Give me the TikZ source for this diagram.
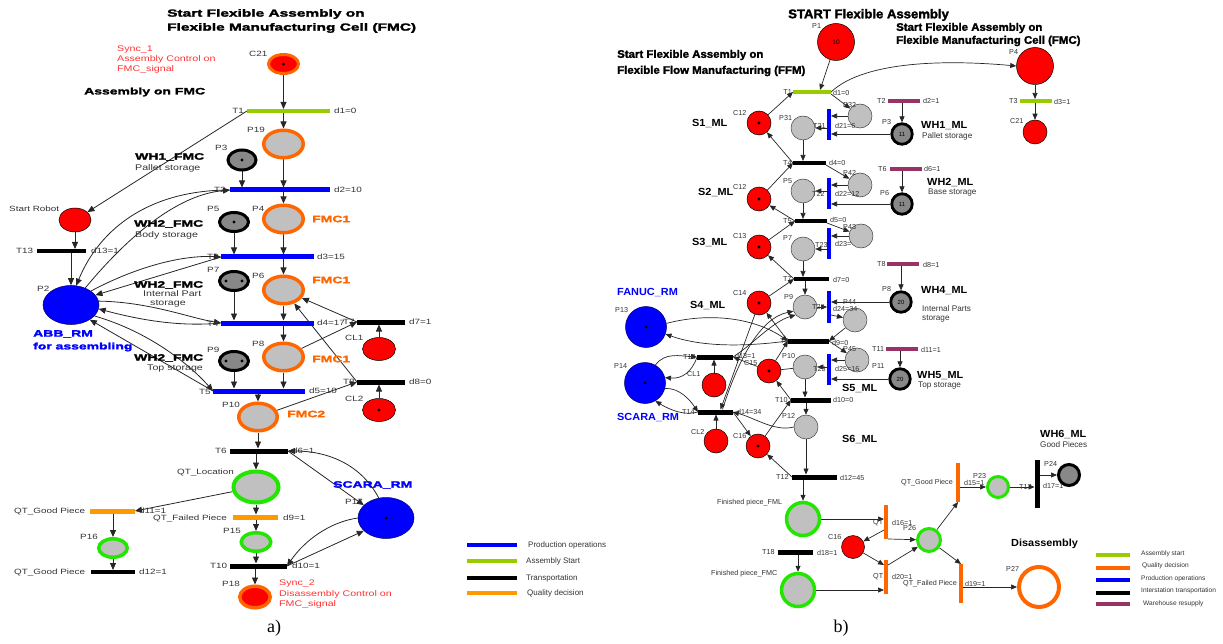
\documentclass[tikz,border=0pt]{standalone}
\usepackage{fontspec}
\setmainfont{Liberation Sans}
\newfontfamily\afont[FakeStretch=1.3]{Liberation Sans}
\newfontfamily\ahv[FakeStretch=1.5,FakeBold=2.2]{Liberation Sans}
\newfontfamily\bhv[FakeStretch=1.06]{Liberation Sans}
\newfontfamily\bhvy[FakeStretch=1.04,FakeBold=2]{Liberation Sans}
\newfontfamily\serf{Liberation Serif}
\usetikzlibrary{arrows.meta,shapes.geometric,calc}
\pgfdeclarelayer{bg}
\pgfsetlayers{bg,main}
\definecolor{orR}{HTML}{FF6600}
\definecolor{amb}{HTML}{FF9900}
\definecolor{ygreen}{HTML}{99CC00}
\definecolor{grR}{HTML}{22E600}
\definecolor{pgray}{HTML}{C0C0C0}
\definecolor{wgray}{HTML}{888888}
\definecolor{purp}{HTML}{993366}
\definecolor{redT}{HTML}{FF3333}
\definecolor{bl}{HTML}{0000FF}
\tikzset{
  arr/.style={-{Triangle[length=7pt,width=6pt]}, line width=.8pt, draw=black!85},
  barr/.style={-{Triangle[length=6pt,width=5pt]}, line width=.7pt, draw=black!85},
  pln/.style={line width=.7pt, draw=black!85},
  sz/.style 2 args={minimum width=#1, minimum height=#2},
  ringO/.style={ellipse, draw=orR, line width=3.5pt, fill=pgray, inner sep=0pt},
  ringG/.style={ellipse, draw=grR, line width=3.5pt, fill=pgray, inner sep=0pt},
  wh/.style={ellipse, draw=black, line width=3pt, fill=wgray, inner sep=0pt},
  redp/.style={ellipse, draw=black, line width=.5pt, fill=red, inner sep=0pt},
  bluep/.style={ellipse, draw=black!60!blue, line width=.5pt, fill=bl, inner sep=0pt},
  onedot/.style={path picture={\fill[black] (path picture bounding box.center) circle (1.6pt);}},
  twodots/.style={path picture={\fill[black] ([xshift=-8pt]path picture bounding box.center) circle (1.6pt);
                                \fill[black] ([xshift=8pt]path picture bounding box.center) circle (1.6pt);}},
  tbar/.style={rectangle, inner sep=0pt, outer sep=0pt, fill=#1, draw=none},
  bred/.style={circle, draw=black, line width=.5pt, fill=red, inner sep=0pt, minimum size=#1},
  bgray/.style={circle, draw=black!75, line width=.5pt, fill=pgray, inner sep=0pt, minimum size=24pt},
  bwh/.style={circle, draw=black, line width=2.8pt, fill=wgray, inner sep=0pt, minimum size=20.5pt, font=\fontsize{6}{6}\selectfont},
  bgr/.style={circle, draw=grR, line width=3.5pt, fill=pgray, inner sep=0pt, minimum size=#1},
  bblue/.style={circle, draw=black!60!blue, line width=.5pt, fill=bl, inner sep=0pt, minimum size=41pt},
  ta/.style={inner sep=0pt, anchor=west, text=black!80, font=\afont\fontsize{7.6}{9}\selectfont},
  tad/.style={inner sep=0pt, anchor=west, text=black!80, font=\afont\fontsize{8.2}{9}\selectfont},
  tar/.style={inner sep=0pt, anchor=west, text=redT, font=\afont\fontsize{8.2}{9}\selectfont},
  tah/.style={inner sep=0pt, anchor=west, text=black, font=\ahv\bfseries\fontsize{9.3}{11}\selectfont},
  tat/.style={inner sep=0pt, anchor=west, text=black, font=\ahv\bfseries\fontsize{10.3}{11}\selectfont},
  tb/.style={inner sep=0pt, anchor=west, text=black!80, font=\fontsize{7.2}{8}\selectfont},
  tbd/.style={inner sep=0pt, anchor=west, text=black!80, font=\fontsize{8.2}{9}\selectfont},
  tbb/.style={inner sep=0pt, anchor=west, text=black, font=\bhv\bfseries\fontsize{10.3}{11}\selectfont},
  tbt/.style={inner sep=0pt, anchor=west, text=black, font=\bhvy\bfseries\fontsize{11}{12}\selectfont},
  tlg/.style={inner sep=0pt, anchor=west, text=black!80, font=\fontsize{8}{9}\selectfont},
  tlgb/.style={inner sep=0pt, anchor=west, text=black!80, font=\fontsize{6.6}{8}\selectfont},
  tser/.style={inner sep=0pt, anchor=center, font=\serf\fontsize{18}{20}\selectfont},
}
\begin{document}
\begin{tikzpicture}[x=1pt,y=-1pt]
\useasboundingbox (0,0) rectangle (1223,644);

%%%%%%%%%%%%%%%%%%%%%%%%%%%% a) %%%%%%%%%%%%%%%%%%%%%%%%%%%%
% places
\node[ringO, fill=red, line width=3pt, sz={30pt}{19pt}, onedot] (C21) at (283.5,64) {};
\node[ringO, sz={39.5pt}{27.5pt}] (P19) at (283.5,144) {};
\node[ringO, sz={39.5pt}{27.5pt}] (P4) at (283.5,219) {};
\node[ringO, sz={39.5pt}{27.5pt}] (P6) at (283.5,290) {};
\node[ringO, sz={39.5pt}{27.5pt}] (P8) at (283.5,357) {};
\node[ringO, sz={38.5pt}{27.5pt}] (P10) at (258,417) {};
\node[wh, sz={28pt}{20pt}, onedot] (P3) at (242,160) {};
\node[wh, sz={29pt}{19pt}, onedot] (P5) at (234,222) {};
\node[wh, sz={29pt}{19pt}, twodots] (P7) at (234,281) {};
\node[wh, sz={29pt}{19pt}, twodots] (P9) at (234,361) {};
\node[redp, sz={32pt}{24pt}] (SR) at (75,220) {};
\node[bluep, sz={56pt}{39pt}] (P2) at (71,305) {};
\node[redp, sz={33pt}{23pt}] (CL1) at (379,349) {};
\node[redp, sz={33pt}{23pt}, onedot] (CL2) at (379,410) {};
\node[bluep, sz={56pt}{41pt}, onedot] (P17) at (386,518) {};
\node[ringG, line width=4pt, sz={45pt}{31pt}] (QTL) at (256,487) {};
\node[ringG, sz={28.5pt}{18.5pt}] (P16) at (113,548) {};
\node[ringG, sz={29.5pt}{18.5pt}] (P15) at (256,542) {};
\node[ringO, fill=red, sz={30.5pt}{21.5pt}] (P18) at (255,597) {};
% transitions
\node[tbar=ygreen, sz={83pt}{4pt}] (T1) at (288.5,111) {};
\node[tbar=bl, sz={100pt}{5pt}] (T2) at (280,190) {};
\node[tbar=bl, sz={93pt}{5pt}] (T3) at (267.5,257) {};
\node[tbar=bl, sz={93pt}{5pt}] (T4) at (267.5,323) {};
\node[tbar=bl, sz={92pt}{5pt}] (T5) at (259,391) {};
\node[tbar=black, sz={49pt}{4pt}] (T13) at (61.5,251) {};
\node[tbar=black, sz={48pt}{5pt}] (T7) at (381,322) {};
\node[tbar=black, sz={48pt}{5pt}] (T8) at (381,382) {};
\node[tbar=black, sz={58pt}{5pt}] (T6) at (259,451) {};
\node[tbar=amb, sz={45pt}{5pt}] (T11) at (112.5,511) {};
\node[tbar=amb, sz={45pt}{5pt}] (T9) at (255.5,517) {};
\node[tbar=black, sz={44pt}{4pt}] (T12) at (113,572) {};
\node[tbar=black, sz={57pt}{5pt}] (T10) at (258.5,566) {};

% texts
\node[tat] (la1) at (167,14) {Start Flexible Assembly on};
\node[tat] (la2) at (167,28) {Flexible Manufacturing Cell (FMC)};
\node[tar] (la3) at (117,49) {Sync\_1};
\node[tar] (la4) at (117,59) {Assembly Control on};
\node[tar] (la5) at (117,69) {FMC\_signal};
\node[tah] (la6) at (84,92) {Assembly on FMC};
\node[ta] (la7) at (249,54) {C21};
\node[ta, anchor=east] (la8) at (244,111) {T1};
\node[ta] (la9) at (334,111) {d1=0};
\node[ta] (la10) at (247,130) {P19};
\node[tah] (la11) at (135,157) {WH1\_FMC};
\node[tad] (la12) at (135,168) {Pallet storage};
\node[ta] (la13) at (215,148) {P3};
\node[ta] (la14) at (214,190) {T2};
\node[ta] (la15) at (334,190) {d2=10};
\node[ta] (la16) at (9,209) {Start Robot};
\node[ta] (la17) at (207,209) {P5};
\node[ta] (la18) at (252,209) {P4};
\node[tah, text=orR] (la19) at (312,219) {FMC1};
\node[tah] (la20) at (134,224) {WH2\_FMC};
\node[tad] (la21) at (135,235) {Body storage};
\node[ta] (la22) at (16,251) {T13};
\node[ta] (la23) at (91,251) {d13=1};
\node[ta] (la24) at (207,257) {T3};
\node[ta] (la25) at (317,257) {d3=15};
\node[ta] (la26) at (37,289) {P2};
\node[ta] (la27) at (207,270) {P7};
\node[ta] (la28) at (252,276) {P6};
\node[tah, text=orR] (la29) at (312,280) {FMC1};
\node[tah] (la30) at (134,285) {WH2\_FMC};
\node[tad] (la31) at (143,294) {Internal Part};
\node[tad] (la32) at (150,304) {storage};
\node[tah, text=bl] (la33) at (33,334) {ABB\_RM};
\node[tah, text=bl] (la34) at (33,347) {for assembling};
\node[ta] (la35) at (207,324) {T4};
\node[ta] (la36) at (317,323) {d4=17};
\node[ta] (la37) at (207,350) {P9};
\node[ta] (la38) at (252,344) {P8};
\node[tah, text=orR] (la39) at (312,359) {FMC1};
\node[tah] (la40) at (134,358) {WH2\_FMC};
\node[tad] (la41) at (147,369) {Top storage};
\node[ta] (la42) at (199,392) {T5};
\node[ta] (la43) at (309,391) {d5=10};
\node[ta] (la44) at (222,405) {P10};
\node[tah, text=orR] (la45) at (287,414) {FMC2};
\node[ta] (la46) at (343,322) {T7};
\node[ta] (la47) at (409,322) {d7=1};
\node[ta] (la48) at (345,338) {CL1};
\node[ta] (la49) at (343,382) {T8};
\node[ta] (la50) at (409,382) {d8=0};
\node[ta] (la51) at (345,399) {CL2};
\node[ta] (la52) at (215,451) {T6};
\node[ta] (la53) at (292,451) {d6=1};
\node[ta] (la54) at (177,472) {QT\_Location};
\node[ta] (la55) at (14,511) {QT\_Good Piece};
\node[ta] (la56) at (139,511) {d11=1};
\node[ta] (la57) at (153,518) {QT\_Failed Piece};
\node[ta] (la58) at (283,518) {d9=1};
\node[ta] (la59) at (80,537) {P16};
\node[ta] (la60) at (223,531) {P15};
\node[ta] (la61) at (14,572) {QT\_Good Piece};
\node[ta] (la62) at (139,572) {d12=1};
\node[ta] (la63) at (210,566) {T10};
\node[ta] (la64) at (292,566) {d10=1};
\node[ta] (la65) at (222,584) {P18};
\node[tar] (la66) at (279,583) {Sync\_2};
\node[tar] (la67) at (279,594) {Disassembly Control on};
\node[tar] (la68) at (279,604) {FMC\_signal};
\node[tah, text=bl] (la69) at (333,485) {SCARA\_RM};
\node[ta] (la70) at (345,502) {P17};
\node[tser] (la71) at (274,628) {a)};
% legend a
\draw[line width=4.5pt, bl] (467,545) -- (517,545);
\draw[line width=4.5pt, ygreen] (467,561) -- (517,561);
\draw[line width=4.5pt, black] (467,578) -- (517,578);
\draw[line width=4.5pt, amb] (467,593) -- (517,593);
\node[tlg] (lga1) at (528,545) {Production operations};
\node[tlg] (lga2) at (526,561) {Assembly Start};
\node[tlg] (lga3) at (526,578) {Transportation};
\node[tlg] (lga4) at (527,593) {Quality decision};

%%%%%%%%%%%%%%%%%%%%%%%%%%%% b) %%%%%%%%%%%%%%%%%%%%%%%%%%%%
\node[bred=37pt, font=\fontsize{6.5}{7}\selectfont] (bP1) at (836,42) {10};
\node[bred=37pt] (bP4) at (1035,66) {};
\node[bred=24pt] (bC21) at (1035,132) {};
\node[bred=24pt, onedot] (bC12) at (759,123) {};
\node[bred=24pt, onedot] (bC22) at (759,199) {};
\node[bred=24pt, onedot] (bC13) at (759,247) {};
\node[bred=24pt, onedot] (bC14) at (759,303) {};
\node[bred=24pt, onedot] (bC15) at (769,371) {};
\node[bred=24pt, onedot] (bC16) at (758,446) {};
\node[bred=23pt] (bC16b) at (853,547) {};
\node[bred=24pt] (bCL1) at (714,385) {};
\node[bred=24pt] (bCL2) at (716,441) {};
\node[bgray] (bP31) at (803,128) {};
\node[bgray] (bP32) at (860,116) {};
\node[bgray] (bP5) at (803,191) {};
\node[bgray] (bP42) at (860,185) {};
\node[bgray] (bP7) at (803,249) {};
\node[bgray] (bP43) at (861,236) {};
\node[bgray] (bP9) at (805,307) {};
\node[bgray] (bP44) at (855,320) {};
\node[bgray] (bP10) at (805,367) {};
\node[bgray] (bP45) at (857,360) {};
\node[bgray] (bP12) at (806,427) {};
\node[bwh] (bP3) at (902,134) {11};
\node[bwh] (bP6) at (902,204) {11};
\node[bwh] (bP8) at (901,302) {20};
\node[bwh] (bP11) at (900,379) {20};
\node[bblue, onedot] (bP13) at (646,327) {};
\node[bblue, onedot] (bP14) at (645,383) {};
\node[bgr=33pt] (bFML) at (803,519) {};
\node[bgr=33pt] (bFMC) at (798,590) {};
\node[bgr=23pt, line width=3pt] (bP26) at (929,540) {};
\node[bgr=21pt, line width=3pt] (bP23) at (998,487) {};
\node[bwh, line width=3pt, minimum size=21pt] (bP24) at (1069,475) {};
\node[circle, draw=orR, line width=4pt, fill=white, inner sep=0pt, minimum size=40pt] (bP27) at (1039,587) {};
% transitions
\node[tbar=ygreen, sz={38pt}{4pt}] (bT1) at (812,92) {};
\node[tbar=ygreen, sz={32pt}{4pt}] (bT3) at (1036,101) {};
\node[tbar=purp, sz={32pt}{4pt}] (bT2) at (904,101) {};
\node[tbar=purp, sz={32pt}{4pt}] (bT6) at (906,169) {};
\node[tbar=purp, sz={32pt}{4pt}] (bT8) at (903,264) {};
\node[tbar=purp, sz={32pt}{4pt}] (bT11) at (902,349) {};
\node[tbar=black, sz={33pt}{4pt}] (bT4) at (809.5,163) {};
\node[tbar=black, sz={32pt}{4pt}] (bT5) at (811,221) {};
\node[tbar=black, sz={35pt}{4pt}] (bT7) at (811.5,279) {};
\node[tbar=black, sz={41pt}{5pt}] (bT9) at (808.5,341) {};
\node[tbar=black, sz={36pt}{5pt}] (bT13) at (715,357) {};
\node[tbar=black, sz={35pt}{5pt}] (bT14) at (715.5,412) {};
\node[tbar=black, sz={40pt}{5pt}] (bT10) at (811,400) {};
\node[tbar=black, sz={45pt}{5pt}] (bT12) at (814.5,477) {};
\node[tbar=black, sz={35pt}{5pt}] (bT18) at (795.5,552) {};
\node[tbar=bl, sz={4pt}{31pt}] (bT21) at (829,124.5) {};
\node[tbar=bl, sz={4pt}{31pt}] (bT22) at (829,193.5) {};
\node[tbar=bl, sz={4pt}{31pt}] (bT23) at (829,243.5) {};
\node[tbar=bl, sz={4pt}{32pt}] (bT24) at (829,307) {};
\node[tbar=bl, sz={4pt}{31pt}] (bT25) at (829,369.5) {};
\node[tbar=orR, sz={4pt}{34pt}] (bT16) at (886,522) {};
\node[tbar=orR, sz={4pt}{34pt}] (bT20) at (886,577) {};
\node[tbar=orR, sz={4pt}{39pt}] (bT15) at (958,482.5) {};
\node[tbar=orR, sz={4pt}{39pt}] (bT19) at (961,583.5) {};
\node[tbar=black, sz={5pt}{48pt}] (bT17) at (1037,484) {};

% texts b
\node[tbt, font=\bhvy\bfseries\fontsize{12.6}{13}\selectfont] (lb1) at (788,15) {START Flexible Assembly};
\node[tbt] (lb2) at (896,28) {Start Flexible Assembly on};
\node[tbt] (lb3) at (896,41) {Flexible Manufacturing Cell (FMC)};
\node[tbt] (lb4) at (617,55) {Start Flexible Assembly on};
\node[tbt] (lb5) at (617,71) {Flexible Flow Manufacturing (FFM)};
\node[tb] (lb6) at (812,26) {P1};
\node[tb, anchor=east] (lb7) at (792,92) {T1};
\node[tb] (lb8) at (833,93) {d1=0};
\node[tb] (lb9) at (1009,52) {P4};
\node[tb] (lb10) at (1009,101) {T3};
\node[tb] (lb11) at (1054,102) {d3=1};
\node[tb] (lb12) at (1010,121) {C21};
\node[tb] (lb13) at (733,113) {C12};
\node[tbb] (lb14) at (692,124) {S1\_ML};
\node[tb] (lb15) at (779,118) {P31};
\node[tb] (lb16) at (843,105) {P32};
\node[tb] (lb17) at (813,126) {T21};
\node[tb] (lb18) at (835,126) {d21=6};
\node[tb] (lb19) at (877,101) {T2};
\node[tb] (lb20) at (923,101) {d2=1};
\node[tb] (lb21) at (882,122) {P3};
\node[tbb] (lb22) at (921,126) {WH1\_ML};
\node[tbd] (lb23) at (922,136) {Pallet storage};
\node[tb] (lb24) at (783,163) {T4};
\node[tb] (lb25) at (829,163) {d4=0};
\node[tb] (lb26) at (733,187) {C12};
\node[tbb] (lb27) at (698,193) {S2\_ML};
\node[tb] (lb28) at (783,181) {P5};
\node[tb] (lb29) at (843,173) {P42};
\node[tb] (lb30) at (812,194) {T22};
\node[tb] (lb31) at (835,194) {d22=12};
\node[tb] (lb32) at (878,169) {T6};
\node[tb] (lb33) at (924,169) {d6=1};
\node[tb] (lb34) at (880,193) {P6};
\node[tbb] (lb35) at (927,183) {WH2\_ML};
\node[tbd] (lb36) at (928,193) {Base storage};
\node[tb] (lb37) at (783,221) {T5};
\node[tb] (lb38) at (830,220) {d5=0};
\node[tb] (lb39) at (843,227) {P43};
\node[tb] (lb40) at (733,236) {C13};
\node[tbb] (lb41) at (692,243) {S3\_ML};
\node[tb] (lb42) at (783,238) {P7};
\node[tb] (lb43) at (815,245) {T23};
\node[tb] (lb44) at (835,244) {d23=};
\node[tb] (lb45) at (783,279) {T7};
\node[tb] (lb46) at (833,280) {d7=0};
\node[tb] (lb47) at (877,264) {T8};
\node[tb] (lb48) at (923,265) {d8=1};
\node[tb] (lb49) at (882,289) {P8};
\node[tbb] (lb50) at (921,291) {WH4\_ML};
\node[tbd] (lb51) at (922,309) {Internal Parts};
\node[tbd] (lb52) at (922,319) {storage};
\node[tb] (lb53) at (733,293) {C14};
\node[tbb] (lb54) at (690,306) {S4\_ML};
\node[tb] (lb55) at (784,297) {P9};
\node[tb] (lb56) at (812,307) {T24};
\node[tb] (lb57) at (833,309) {d24=34};
\node[tb] (lb58) at (843,302) {P44};
\node[tbb, text=bl] (lb59) at (617,293) {FANUC\_RM};
\node[tb] (lb60) at (615,310) {P13};
\node[tb] (lb61) at (780,341) {T9};
\node[tb] (lb62) at (832,343) {d9=0};
\node[tb] (lb63) at (843,349) {P45};
\node[tb] (lb64) at (872,349) {T11};
\node[tb] (lb65) at (921,350) {d11=1};
\node[tb] (lb66) at (872,366) {P11};
\node[tbb] (lb67) at (917,376) {WH5\_ML};
\node[tbd] (lb68) at (918,386) {Top storage};
\node[tb] (lb69) at (683,357) {T13};
\node[tb] (lb70) at (735,356) {d13=1};
\node[tb] (lb71) at (744,363) {C15};
\node[tb] (lb72) at (782,356) {P10};
\node[tb] (lb73) at (813,369) {T25};
\node[tb] (lb74) at (835,369) {d25=16};
\node[tb] (lb75) at (614,366) {P14};
\node[tbb, text=bl] (lb76) at (617,418) {SCARA\_RM};
\node[tb] (lb77) at (687,374) {CL1};
\node[tbb] (lb78) at (842,389) {S5\_ML};
\node[tb] (lb79) at (682,412) {T14};
\node[tb] (lb80) at (737,412) {d14=34};
\node[tb] (lb81) at (775,400) {T10};
\node[tb] (lb82) at (833,400) {d10=0};
\node[tb] (lb83) at (782,416) {P12};
\node[tb] (lb84) at (691,432) {CL2};
\node[tb] (lb85) at (733,436) {C16};
\node[tbb] (lb86) at (842,440) {S6\_ML};
\node[tb] (lb87) at (776,477) {T12};
\node[tb] (lb88) at (840,478) {d12=45};
\node[tb] (lb89) at (717,503) {Finished piece\_FML};
\node[tb] (lb90) at (873,523) {QT};
\node[tb] (lb91) at (892,523) {d16=1};
\node[tb] (lb92) at (828,537) {C16};
\node[tb] (lb93) at (903,528) {P26};
\node[tb] (lb94) at (762,552) {T18};
\node[tb] (lb95) at (817,553) {d18=1};
\node[tb] (lb96) at (711,574) {Finished piece\_FMC};
\node[tb] (lb97) at (873,577) {QT};
\node[tb] (lb98) at (892,577) {d20=1};
\node[tb, anchor=east] (lb99) at (957,584) {QT\_Failed Piece};
\node[tb, anchor=east] (lb100) at (953,483) {QT\_Good Piece};
\node[tb] (lb101) at (964,483) {d15=1};
\node[tb] (lb102) at (973,476) {P23};
\node[tb] (lb103) at (1019,487) {T17};
\node[tb] (lb104) at (1043,486) {d17=1};
\node[tb] (lb105) at (1044,464) {P24};
\node[tbb] (lb106) at (1040,435) {WH6\_ML};
\node[tbd] (lb107) at (1040,445) {Good Pieces};
\node[tbb] (lb108) at (1011,544) {Disassembly};
\node[tb] (lb109) at (1006,569) {P27};
\node[tb] (lb110) at (965,584) {d19=1};
\node[tser] (lb111) at (841,628) {b)};
% legend b
\draw[line width=4pt, ygreen] (1096,555) -- (1130,555);
\draw[line width=4pt, orR] (1096,568) -- (1130,568);
\draw[line width=4pt, bl] (1096,580) -- (1130,580);
\draw[line width=4pt, black] (1096,593) -- (1130,593);
\draw[line width=4pt, purp] (1096,604) -- (1130,604);
\node[tlgb] (lgb1) at (1141,554) {Assembly start};
\node[tlgb] (lgb2) at (1142,566) {Quality decision};
\node[tlgb] (lgb3) at (1141,579) {Production operations};
\node[tlgb] (lgb4) at (1141,591) {Interstation transportation};
\node[tlgb] (lgb5) at (1143,604) {Warehouse resupply};

%%%%%%%%%%%%%%%%%%%%%%%%%%%% connectors %%%%%%%%%%%%%%%%%%%%%%%%%%%%
\begin{pgfonlayer}{bg}
% a)
\draw[arr] (C21) -- (C21 |- T1.north);
\draw[arr] (P19 |- T1.south) -- (P19);
\draw[arr] (T1.west) -- (SR);
\draw[arr] (P3) -- (P3 |- T2.north);
\draw[arr] (P19) -- (P19 |- T2.north);
\draw[arr] (P4 |- T2.south) -- (P4);
\draw[arr] (P5) -- (P5 |- T3.north);
\draw[arr] (P4) -- (P4 |- T3.north);
\draw[arr] (P6 |- T3.south) -- (P6);
\draw[arr] (P7) -- (P7 |- T4.north);
\draw[arr] (P6) -- (P6 |- T4.north);
\draw[arr] (P8 |- T4.south) -- (P8);
\draw[arr] (P9) -- (P9 |- T5.north);
\draw[arr] (P8) -- (P8 |- T5.north);
\draw[arr] (P10 |- T5.south) -- (P10);
\draw[arr] (P10) -- (P10 |- T6.north);
\draw[arr] (QTL |- T6.south) -- (QTL);
\draw[arr] (QTL) -- (QTL |- T9.north);
\draw[arr] (P15 |- T9.south) -- (P15);
\draw[arr] (P15) -- (P15 |- T10.north);
\draw[arr] (P18 |- T10.south) -- (P18);
\draw[arr] (QTL) -- (T11.east);
\draw[arr] (P16 |- T11.south) -- (P16);
\draw[arr] (P16) -- (P16 |- T12.north);
\draw[arr] (SR) -- (SR |- T13.north);
\draw[arr] (P2 |- T13.south) -- (P2);
\draw[arr] (P8) -- (T7.west);
\draw[arr] (T7.west) -- (P6);
\draw[arr] (CL1) -- (CL1 |- T7.south);
\draw[arr] (P10) -- (T8.west);
\draw[arr] (T8.west) -- (P6);
\draw[arr] (CL2) -- (CL2 |- T8.south);
\draw[arr] (P17.110) .. controls (362,466) and (330,451) .. (T6.east);
\draw[arr] (T6.east) -- (P17.150);
\draw[arr] (P17.west) .. controls (330,522) and (305,540) .. (T10.east);
\draw[arr] (T10.east) -- (P17.210);
\draw[arr] (P2.50) .. controls (125,240) and (175,195) .. (T2.west);
\draw[arr] (T2.west) .. controls (150,190) and (100,228) .. (P2.75);
\draw[arr] (P2.35) .. controls (140,265) and (185,255) .. (T3.west);
\draw[arr] (T3.west) -- (P2.22);
\draw[arr] (P2.8) .. controls (150,302) and (190,318) .. (T4.west);
\draw[arr] (T4.west) .. controls (180,327) and (140,320) .. (P2.-8);
\draw[arr] (P2.-25) .. controls (150,332) and (190,365) .. (T5.west);
\draw[arr] (T5.west) -- (P2.-38);
% b)
\draw[barr] (bP1) -- ([xshift=8pt]bT1.north);
\draw[barr] (bC12) -- (bT1.west);
\draw[barr] (bT1.east) .. controls (865,60) and (950,60) .. (bP4.west);
\draw[barr] (bT1.south east) -- (bP32);
\draw[barr] (bP32) -- (bP32 -| bT21.east);
\draw[barr] (bP3) -- (bP3 -| bT21.east);
\draw[barr] (bP31 -| bT21.west) -- (bP31);
\draw[barr] (bP3 |- bT2.south) -- (bP3);
\draw[barr] (bP31) -- (bP31 |- bT4.north);
\draw[barr] (bT4.west) -- (bC12);
\draw[barr] (bC22) -- (bT4.west);
\draw[barr] (bT4.south east) -- (bP42);
\draw[barr] (bP42) -- (bP42 -| bT22.east);
\draw[barr] (bP6) -- (bP6 -| bT22.east);
\draw[barr] (bP5 -| bT22.west) -- (bP5);
\draw[barr] (bP6 |- bT6.south) -- (bP6);
\draw[barr] (bP5) -- (bP5 |- bT5.north);
\draw[barr] (bT5.west) -- (bC22);
\draw[barr] (bC13) -- (bT5.west);
\draw[barr] (bT5.south east) -- (bP43);
\draw[barr] (bP43) -- (bP43 -| bT23.east);
\draw[barr] (bP7 -| bT23.west) -- (bP7);
\draw[barr] (bP7) -- (bP7 |- bT7.north);
\draw[barr] (bT7.west) -- (bC13);
\draw[barr] (bC14) -- (bT7.west);
\draw[barr] (bP9 |- bT7.south) -- (bP9);
\draw[barr] (bP9) -- (bP9 -| bT24.west);
\draw[barr] (bP8) -- (bP8 -| bT24.east);
\draw[barr] (bP8 |- bT8.south) -- (bP8);
\draw[barr] ([yshift=-8pt]bT24.east) -- (bP44);
\draw[barr] (bP44) -- (bT9.east);
\draw[barr] (bT9.east) -- (bP45);
\draw[barr] (bP45) -- (bP45 -| bT25.east);
\draw[barr] (bP11) -- (bP11 -| bT25.east);
\draw[barr] (bP10 -| bT25.west) -- (bP10);
\draw[barr] (bP11 |- bT11.south) -- (bP11);
\draw[barr] (bP10) -- (bP10 |- bT10.north);
\draw[barr] (bP12 |- bT10.south) -- (bP12);
\draw[barr] (bP12) -- (bP12 |- bT12.north);
\draw[barr] (bFML |- bT12.south) -- (bFML);
\draw[barr] (bT10.west) -- (bC15);
\draw[barr] (bC16) -- (bT10.west);
\draw[barr] (bT12.west) -- (bC16);
\draw[barr] (bC15) -- (bT9.west);
\draw[barr] (bT9.west) -- (bC14);
\draw[barr] (bP13.10) .. controls (710,312) and (755,318) .. (bT9.west);
\draw[barr] (bT9.west) .. controls (750,346) and (705,348) .. (bP13.-20);
\draw[barr] (bP14.60) .. controls (665,352) and (680,356) .. (bT13.west);
\draw[barr] (bT13.west) .. controls (692,372) and (682,379) .. (bP14.15);
\draw[barr] (bCL1) -- (bCL1 |- bT13.south);
\draw[barr] (bC15) -- (bT13.east);
\draw[pln] (bC15) -- (bP10);
\draw[barr] (bT13.east) .. controls (752,345) and (772,322) .. (bP9.220);
\draw[barr] ([xshift=7pt]bT14.north) .. controls (738,360) and (760,318) .. (bP9.200);
\draw[barr] (bC14) -- ([xshift=5pt]bT14.north);
\draw[barr] (bP14.-15) .. controls (680,388) and (690,400) .. (bT14.west);
\draw[barr] (bT14.west) .. controls (685,416) and (670,410) .. (bP14.-60);
\draw[barr] (bCL2) -- (bCL2 |- bT14.south);
\draw[barr] (bT14.east) -- (bC16);
\draw[barr] (bP12.west) .. controls (775,432) and (755,418) .. (bT14.east);
\draw[barr] (bFML) -- (bFML -| bT16.west);
\draw[barr] ([yshift=-8pt]bT16.west) -- (bC16b);
\draw[barr] (bC16b) -- ([yshift=-5pt]bT20.north west);
\draw[barr] (bT16.south east) -- (bP26);
\draw[barr] ([yshift=-5pt]bT20.north east) -- (bP26);
\draw[barr] (bFMC) -- (bFMC -| bT20.west);
\draw[barr] (bFMC |- bT18.south) -- (bFMC);
\draw[barr] (bP26) -- (bT15.south);
\draw[barr] (bP26) -- (bT19.north);
\draw[barr] (bP23 -| bT15.east) -- (bP23);
\draw[barr] (bP23) -- (bP23 -| bT17.west);
\draw[barr] (bP24 -| bT17.east) -- (bP24);
\draw[barr] (bP27 -| bT19.east) -- (bP27);
\draw[barr] (bP4) -- (bP4 |- bT3.north);
\draw[barr] (bC21 |- bT3.south) -- (bC21);
\end{pgfonlayer}
\end{tikzpicture}
\end{document}
